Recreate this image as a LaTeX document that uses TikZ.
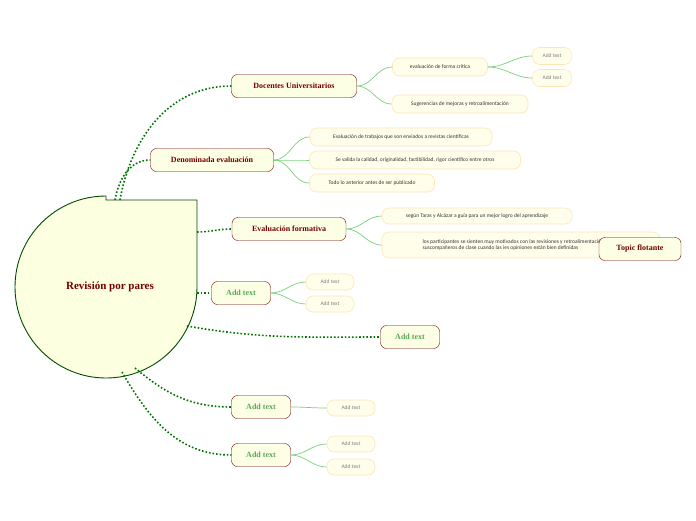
\documentclass[tikz,border=0pt]{standalone}
\usepackage{fontspec}
\setmainfont{Carlito}
\newfontfamily\bfam{Liberation Serif}
\begin{document}
\begin{tikzpicture}[x=1pt,y=-1pt,
 br/.style={draw=red!45!black,fill=green!8!yellow!10,rounded corners=6pt,font=\bfam\bfseries\fontsize{8}{9}\selectfont,text=red!45!black,minimum height=23pt,inner xsep=7pt},
 ad/.style={br,text=green!30!gray},
 lf/.style={draw=yellow!25!orange!25,fill=yellow!8,rounded corners=7pt,font=\fontsize{5.5}{6.5}\selectfont,text=black!80,minimum height=18pt,inner xsep=10pt,line width=0.6pt},
 la/.style={lf,text=gray},
 dl/.style={draw=green!45!black,line width=1.6pt,dotted},
 cl/.style={draw=green!50!gray!70,line width=0.7pt}]
\useasboundingbox (0,0) rectangle (696,520);
% main
\path[draw=green!30!black,fill=green!10!yellow!12,line width=0.9pt]
 (106,200) -- (197,200) -- (197,287) arc[start angle=0,end angle=270,radius=91] -- cycle;
\node[font=\bfam\bfseries\fontsize{11}{13}\selectfont,text=red!45!black] (m) at (110,287) {Revisión por pares};
% branches
\node[br,minimum width=125pt] (b1) at (294,86) {Docentes Universitarios};
\node[br,minimum width=123pt] (b2) at (212,160) {Denominada evaluación};
\node[br,minimum width=114pt] (b3) at (289,229) {Evaluación formativa};
\node[ad,minimum width=59pt] (b4) at (241,293) {Add text};
\node[ad,minimum width=59pt] (b5) at (410,337) {Add text};
\node[ad,minimum width=59pt] (b6) at (261,407) {Add text};
\node[ad,minimum width=59pt] (b7) at (261,455) {Add text};
\coordinate (s1) at (120,200); \coordinate (s2) at (115,200);
\coordinate (s3) at (197,232); \coordinate (s4) at (197,293);
\coordinate (s5) at (187,326); \coordinate (s6) at (135,368); \coordinate (s7) at (122,372);
\draw[dl] (s1) to[out=80,in=180] (b1.west);
\draw[dl] (s2) to[out=80,in=180] (b2.west);
\draw[dl] (s3) to[out=0,in=180] (b3.west);
\draw[dl] (s4) -- (b4.west);
\draw[dl] (s5) to[out=-10,in=180] (b5.west);
\draw[dl] (s6) to[out=-40,in=180] (b6.west);
\draw[dl] (s7) to[out=-60,in=180] (b7.west);
% leaves
\node[lf,minimum width=95pt] (l1) at (440,67) {evaluación de forma crítica};
\node[la,minimum width=35pt,minimum height=17pt] (l11) at (552,56) {Add text};
\node[la,minimum width=35pt,minimum height=17pt] (l12) at (552,78) {Add text};
\node[lf,minimum width=136pt] (l2) at (460,104) {Sugerencias de mejoras y retroalimentación};
\node[lf,minimum width=182pt] (l3) at (401,137) {Evaluación de trabajos que son enviados a revistas científicas};
\node[lf,minimum width=211pt] (l4) at (415,160) {Se valida la calidad, originalidad, factibilidad, rigor científico entre otros};
\node[lf,minimum width=125pt] (l5) at (372,183) {Todo lo anterior antes de ser publicado};
\node[lf,minimum width=190pt,minimum height=16pt] (l6) at (477,216) {según Taras y Alcázar a guía para un mejor logro del aprendizaje};
\node[lf,minimum width=278pt,minimum height=26pt,align=left] (l7) at (521,245) {los participantes se sienten muy motivados con las revisiones y retroalimentación de sus\\suscompañeros de clase cuando las ies opiniones están bien definidas\hspace{60pt}};
\node[la,minimum width=48pt,minimum height=16pt] (l8) at (330,282) {Add text};
\node[la,minimum width=48pt,minimum height=16pt] (l9) at (330,304) {Add text};
\node[la,minimum width=48pt,minimum height=16pt] (l10) at (351,408) {Add text};
\node[la,minimum width=48pt,minimum height=16pt] (l13) at (351,444) {Add text};
\node[la,minimum width=48pt,minimum height=16pt] (l14) at (351,467) {Add text};
\foreach \a/\b in {b1/l1,b1/l2,l1/l11,l1/l12,b2/l3,b2/l4,b2/l5,b3/l6,b3/l7,b4/l8,b4/l9,b6/l10,b7/l13,b7/l14}
 \draw[cl] (\a.east) to[out=0,in=180] (\b.west);
\node[br,minimum width=82pt] (t) at (640,249) {Topic flotante};
\end{tikzpicture}
\end{document}
